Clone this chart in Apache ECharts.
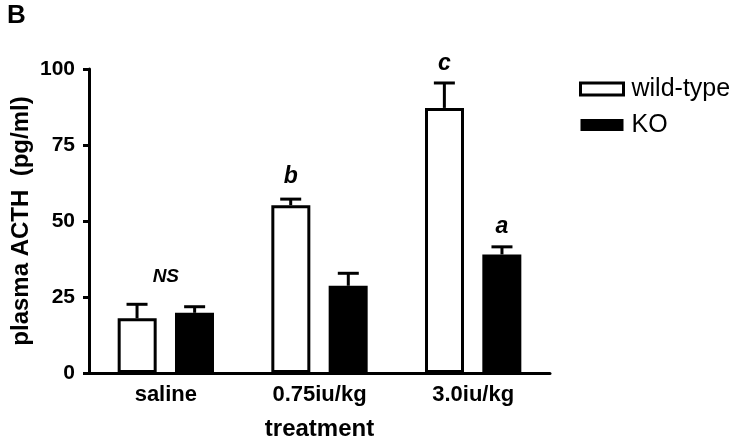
<!DOCTYPE html>
<html><head><meta charset="utf-8">
<script src="https://cdn.jsdelivr.net/npm/echarts@6/dist/echarts.min.js"></script>
<style>html,body{margin:0;padding:0;background:#fff}#c{width:742px;height:446px}</style>
</head><body><div id="c"></div>
<script>
// ---- data ----
var categories = ['saline', '0.75iu/kg', '3.0iu/kg'];
var wtMean = [18.0, 55.2, 87.2];
var wtErr  = [4.6, 2.0, 8.2];
var koMean = [19.8, 28.7, 39.0];
var koErr  = [2.0, 4.1, 2.5];
var yTicks = [0, 25, 50, 75, 100];
// annotations: [label, category index, side (-1 = WT, 0 = group centre, 1 = KO), y value]
var annLabels = ['NS', 'b', 'c', 'a'];
var annCats   = [0, 1, 2, 2];
var annSides  = [0, -1, -1, 1];
var annY      = [31.7, 64.7, 101.6, 48.0];

var FONT = '"Liberation Sans", Arial, Helvetica, sans-serif';
var BAR_W = 39, HALF_SPAN = 28.8;

function errData(mean, err) {
  return mean.map(function (m, i) { return [i, m, m + err[i]]; });
}
function errSeries(name, mean, err, side) {
  return {
    type: 'custom', name: name + '-err', z: 1,
    data: errData(mean, err),
    renderItem: function (params, api) {
      var lo = api.coord([api.value(0), api.value(1)]);
      var hi = api.coord([api.value(0), api.value(2)]);
      var x = lo[0] + side * HALF_SPAN;
      var cap = 10.5;
      return {
        type: 'group', children: [
          { type: 'line', shape: { x1: x, y1: lo[1], x2: x, y2: hi[1] }, style: { stroke: '#000', lineWidth: 3 } },
          { type: 'line', shape: { x1: x - cap, y1: hi[1], x2: x + cap, y2: hi[1] }, style: { stroke: '#000', lineWidth: 3 } }
        ]
      };
    }
  };
}

var annData = annLabels.map(function (l, i) { return [annCats[i], annY[i], annSides[i]]; });

var chart = echarts.init(document.getElementById('c'));
chart.setOption({
  animation: false,
  backgroundColor: '#fff',
  textStyle: { fontFamily: FONT },
  title: { text: 'B', left: 7, top: 3, padding: 0, textStyle: { fontFamily: FONT, fontSize: 26, fontWeight: 'bold', color: '#000' } },
  grid: { left: 89, right: 192, top: 69, bottom: 71 },
  legend: {
    orient: 'vertical', left: 579, top: 76, padding: 0, itemWidth: 43, itemHeight: 12, itemGap: 10,
    icon: 'rect',
    textStyle: { fontFamily: FONT, fontSize: 25, lineHeight: 26, color: '#000', padding: [0, 0, 0, 3] },
    data: [
      { name: 'wild-type', itemStyle: { color: '#fff', borderColor: '#000', borderWidth: 3 } },
      { name: 'KO', itemStyle: { color: '#000', borderColor: '#000', borderWidth: 0 } }
    ]
  },
  xAxis: {
    type: 'category', data: categories,
    name: 'treatment', nameLocation: 'middle', nameGap: 44, nameMoveOverlap: false,
    nameTextStyle: { fontFamily: FONT, fontSize: 24, fontWeight: 'bold', color: '#000' },
    axisLine: { lineStyle: { color: '#000', width: 3 } },
    axisTick: { alignWithLabel: true, length: 6, lineStyle: { color: '#000', width: 3 } },
    axisLabel: { margin: 11, fontFamily: FONT, fontSize: 22, fontWeight: 'bold', color: '#000' },
    splitLine: { show: false }
  },
  yAxis: {
    type: 'value', min: 0, max: 100, interval: 25,
    name: 'plasma ACTH  (pg/ml)', nameLocation: 'middle', nameGap: 56, nameRotate: 90, nameMoveOverlap: false,
    nameTextStyle: { fontFamily: FONT, fontSize: 24, fontWeight: 'bold', color: '#000' },
    axisLine: { show: true, lineStyle: { color: '#000', width: 3 } },
    axisTick: { show: true, length: 6, lineStyle: { color: '#000', width: 3 } },
    axisLabel: { margin: 14, fontFamily: FONT, fontSize: 21, fontWeight: 'bold', color: '#000',
      formatter: function (v) { return yTicks.indexOf(v) >= 0 ? String(v) : ''; } },
    splitLine: { show: false }
  },
  series: [
    errSeries('wild-type', wtMean, wtErr, -1),
    errSeries('KO', koMean, koErr, 1),
    { type: 'bar', name: 'wild-type', data: wtMean, barWidth: BAR_W, barGap: '47%', z: 3,
      itemStyle: { color: '#fff', borderColor: '#000', borderWidth: 3 } },
    { type: 'bar', name: 'KO', data: koMean, barWidth: BAR_W, barGap: '47%', z: 3,
      itemStyle: { color: '#000', borderColor: '#000', borderWidth: 0 } },
    {
      type: 'custom', name: 'ann', z: 5, data: annData,
      renderItem: function (params, api) {
        var p = api.coord([api.value(0), api.value(1)]);
        var lbl = annLabels[params.dataIndex];
        return {
          type: 'text',
          style: { x: p[0] + api.value(2) * HALF_SPAN, y: p[1], text: lbl,
            fontFamily: FONT, fontSize: lbl === 'NS' ? 19 : 23,
            fontWeight: 'bold', fontStyle: 'italic', fill: '#000', align: 'center', verticalAlign: 'middle' }
        };
      }
    }
  ]
});
</script></body></html>
